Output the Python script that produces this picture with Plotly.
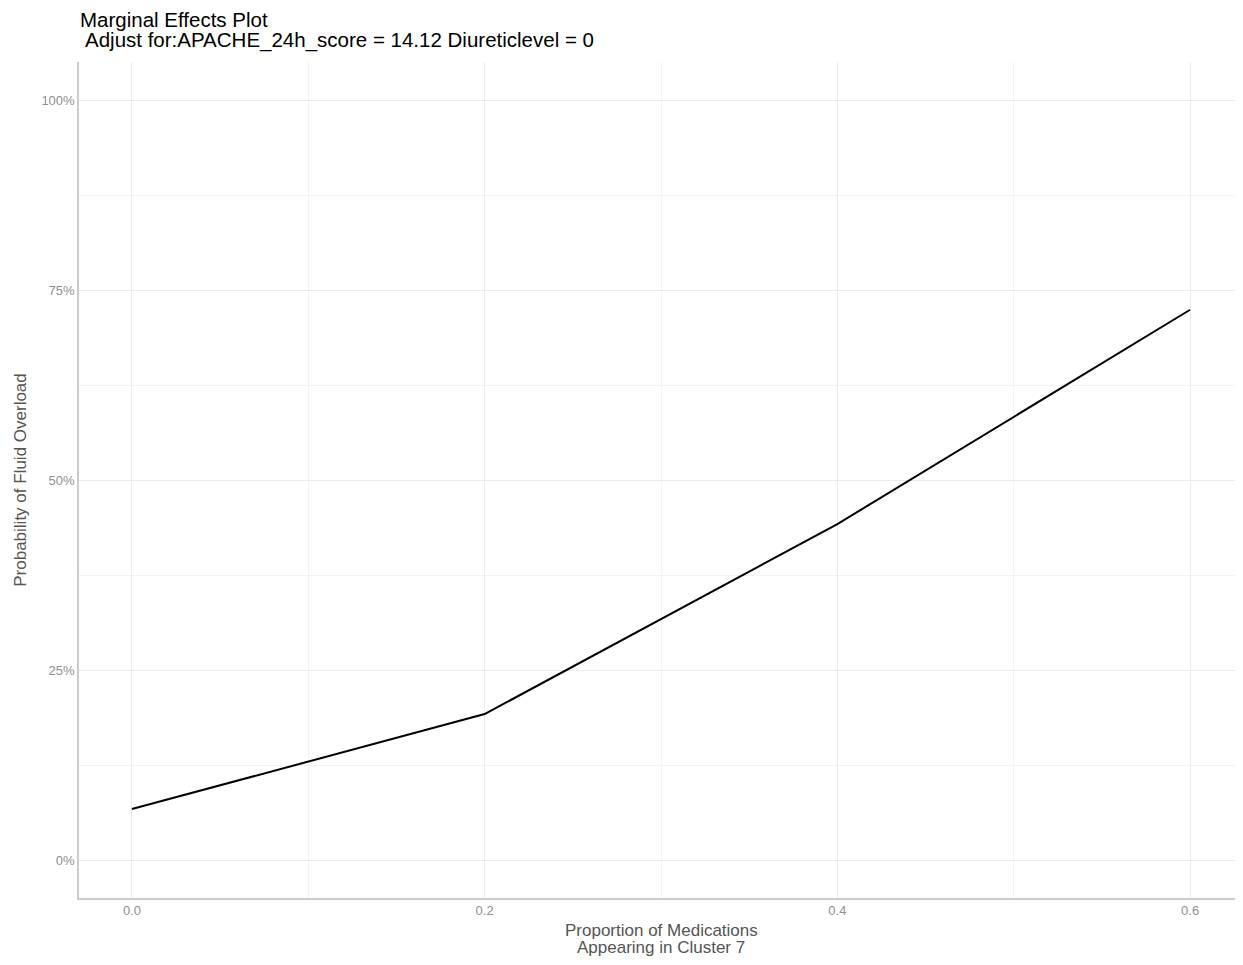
import plotly.graph_objects as go

# Data
proportion = [0.0, 0.2, 0.4, 0.6]
probability = [0.067, 0.192, 0.442, 0.724]

x_ticks = [0.0, 0.2, 0.4, 0.6]
x_tick_labels = ["0.0", "0.2", "0.4", "0.6"]
y_ticks = [0.0, 0.25, 0.5, 0.75, 1.0]
y_tick_labels = ["0%", "25%", "50%", "75%", "100%"]

title_line1 = "Marginal Effects Plot"
title_line2 = "Adjust for:APACHE_24h_score = 14.12 Diureticlevel = 0"
x_title_lines = ["Proportion of Medications", "Appearing in Cluster 7"]
y_title = "Probability of Fluid Overload"

FONT = "Liberation Sans, Arial, sans-serif"

# page geometry (the browser body adds an 8px offset)
OFF = 8
W, H = 1243 - OFF, 965 - OFF
PL, PT, PB = 79, 62, 898          # plot edges on the page
PR = 1243
plot_h = PB - PT
plot_w = PR - PL


def py(page_y):
    return (PB - page_y) / plot_h


def px(page_x):
    return (page_x - PL) / plot_w


fig = go.Figure()
fig.add_trace(go.Scatter(
    x=proportion, y=probability, mode="lines",
    line=dict(color="black", width=2),
    showlegend=False, hoverinfo="x+y",
))

annotations = [
    dict(text=title_line1, x=px(79), y=py(20), xanchor="left", yanchor="middle",
         font=dict(size=20.5, color="black")),
    dict(text=title_line2, x=px(84), y=py(40), xanchor="left", yanchor="middle",
         font=dict(size=20.5, color="black")),
    dict(text=x_title_lines[0], x=px(661), y=py(930), xanchor="center", yanchor="middle",
         font=dict(size=17, color="#555555")),
    dict(text=x_title_lines[1], x=px(661), y=py(948), xanchor="center", yanchor="middle",
         font=dict(size=17, color="#555555")),
]
for a in annotations:
    a.update(xref="paper", yref="paper", showarrow=False, borderpad=0)

fig.update_layout(
    width=W, height=H,
    margin=dict(l=PL - OFF, r=0, t=PT - OFF, b=H - (PB - OFF), autoexpand=False),
    paper_bgcolor="white", plot_bgcolor="white",
    font=dict(family=FONT),
    annotations=annotations,
    xaxis=dict(
        range=[-0.03, 0.63],
        tickmode="array", tickvals=x_ticks, ticktext=x_tick_labels,
        tickfont=dict(size=13, color="#8f8f8f"),
        showgrid=True, gridcolor="#ebebeb", gridwidth=1,
        minor=dict(dtick=0.1, showgrid=True, gridcolor="#f3f3f3", gridwidth=1),
        zeroline=False,
        showline=True, linecolor="#cccccc", linewidth=1.5,
        ticks="",
    ),
    yaxis=dict(
        range=[-0.05, 1.05],
        tickmode="array", tickvals=y_ticks, ticktext=y_tick_labels,
        tickfont=dict(size=13, color="#8f8f8f"),
        showgrid=True, gridcolor="#ebebeb", gridwidth=1,
        minor=dict(dtick=0.125, tick0=0, showgrid=True, gridcolor="#f3f3f3", gridwidth=1),
        zeroline=False,
        showline=True, linecolor="#cccccc", linewidth=1.5,
        ticks="",
        title=dict(text=y_title, font=dict(size=17, color="#555555"), standoff=10),
    ),
)

fig.write_html("out.html")
